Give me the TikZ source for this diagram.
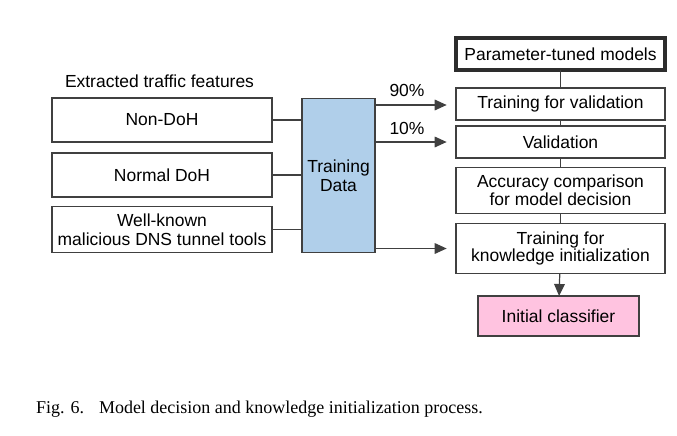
\documentclass[tikz,border=0pt]{standalone}
\usepackage{fontspec}
\setmainfont{Liberation Sans}
\newfontfamily\capfont{Liberation Serif}
\usepackage{tikz}
\usetikzlibrary{arrows.meta,positioning,calc}
\definecolor{boxline}{HTML}{404040}
\definecolor{databl}{HTML}{B0CFEA}
\definecolor{clspink}{HTML}{FFC3E0}

\begin{document}
\begin{tikzpicture}[x=0.75pt, y=-0.75pt,
    font=\fontsize{13.1}{14.2}\selectfont,
    every node/.style={inner sep=0pt, outer sep=0pt},
    featbox/.style={draw=boxline, line width=0.9pt, fill=white, align=center,
        minimum width=165pt, minimum height=33pt},
    stepbox/.style={draw=boxline, line width=0.9pt, fill=white, align=center,
        minimum width=156.75pt, minimum height=24pt},
    link/.style={draw=boxline, line width=0.9pt},
    arr/.style={draw=boxline, line width=0.9pt, -{Triangle[length=9pt,width=8pt]}}]
    \useasboundingbox (0,0) rectangle (677,435);

    % Extracted features
    \node[anchor=west] (feattitle) at (65,81) {Extracted traffic features};
    \node[featbox] (nondoh) at (162,120) {Non-DoH};
    \node[featbox] (normdoh) at (162,175) {Normal DoH};
    \node[featbox, minimum height=34pt] (tools) at (162,229.5)
        {Well-known\\malicious DNS tunnel tools};

    % Training data
    \node[draw=boxline, line width=0.9pt, fill=databl, align=center,
        minimum width=54.75pt, minimum height=116pt] (data) at (338.5,175.5)
        {Training\\Data};

    \draw[link] (nondoh.east) -- (nondoh.east -| data.west);
    \draw[link] (normdoh.east) -- (normdoh.east -| data.west);
    \draw[link] (tools.east) -- (tools.east -| data.west);

    % Right column
    \node[draw=boxline!70!black, line width=3pt, fill=white,
        minimum width=157pt, minimum height=24.5pt] (param) at (560.5,54)
        {Parameter-tuned models};
    \node[stepbox] (trainval) at (560.5,104) {Training for validation};
    \node[stepbox] (valid) at (560.5,142) {Validation};
    \node[stepbox, minimum height=35pt] (acc) at (560.5,190.5)
        {Accuracy comparison\\[-0.8pt]for model decision};
    \node[stepbox, minimum height=37pt] (trainki) at (560.5,248.5)
        {Training for\\[-0.8pt]knowledge initialization};
    \node[draw=boxline, line width=0.9pt, fill=clspink,
        minimum width=120.75pt, minimum height=30pt] (initcls) at (558.5,316)
        {Initial classifier};

    \draw[link] (param) -- (trainval);
    \draw[link] (trainval) -- (valid);
    \draw[link] (valid) -- (acc);
    \draw[link] (acc) -- (trainki);
    \draw[arr] (trainki) -- (initcls);

    % Split arrows
    \coordinate (a90) at ($(data.east |- trainval.west)+(0,1)$);
    \coordinate (a10) at (data.east |- valid.west);
    \coordinate (aki) at (data.east |- trainki.west);
    \draw[arr, shorten >=7pt] (a90) -- (a90 -| trainval.west);
    \draw[arr, shorten >=7pt] (a10) -- (a10 -| valid.west);
    \draw[arr, shorten >=7pt] (aki) -- (aki -| trainki.west);
    \node (p90) at (407,90) {90\%};
    \node (p10) at (407,128) {10\%};

    % Caption
    \node[anchor=west, font=\capfont\fontsize{13.5}{15}\selectfont] (caption)
        at (36,409) {Fig. 6.\hspace{0.5em} Model decision and knowledge initialization process.};
\end{tikzpicture}
\end{document}
